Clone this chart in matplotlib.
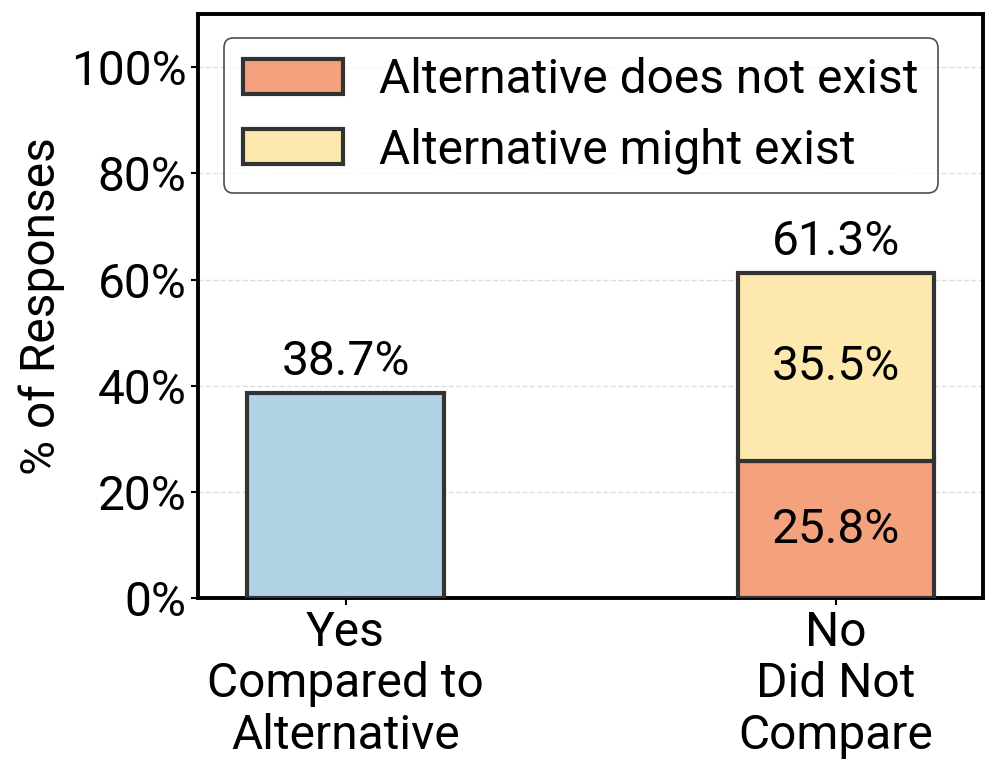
import matplotlib.pyplot as plt
from matplotlib.ticker import FuncFormatter

plt.rcParams['font.family'] = ['Roboto', 'DejaVu Sans']

# data
categories = ['Yes\nCompared to\nAlternative', 'No\nDid Not\nCompare']
yes_vals = [38.7]
no_exist = [25.8]
no_might = [35.5]
series_labels = ['Alternative does not exist', 'Alternative might exist']

FS = 34.5


def main():
    fig, ax = plt.subplots(figsize=(9.97, 7.8), dpi=100)
    fig.subplots_adjust(left=0.199, right=0.986, top=0.982, bottom=0.233)

    edge = '#333333'
    w = 0.4
    ax.bar([0], yes_vals, width=w, color='#b2d3e5', edgecolor=edge, linewidth=3, zorder=3)
    b1 = ax.bar([1], no_exist, width=w, color='#f4a27e', edgecolor=edge, linewidth=3,
                zorder=3, label=series_labels[0])
    b2 = ax.bar([1], no_might, width=w, bottom=no_exist, color='#fde8ad', edgecolor=edge,
                linewidth=3, zorder=3, label=series_labels[1])

    # value labels
    ax.text(0, yes_vals[0] + 1.5, f'{yes_vals[0]}%', ha='center', va='bottom', fontsize=FS)
    total = no_exist[0] + no_might[0]
    ax.text(1, total + 1.5, f'{total:.1f}%', ha='center', va='bottom', fontsize=FS)
    ax.text(1, no_exist[0] / 2, f'{no_exist[0]}%', ha='center', va='center', fontsize=FS)
    ax.text(1, no_exist[0] + no_might[0] / 2, f'{no_might[0]}%', ha='center', va='center',
            fontsize=FS)

    ax.set_xlim(-0.3, 1.3)
    ax.set_ylim(0, 110)
    ax.set_yticks([0, 20, 40, 60, 80, 100])
    ax.yaxis.set_major_formatter(FuncFormatter(lambda v, p: f'{v:.0f}%'))
    ax.set_xticks([0, 1])
    ax.set_xticklabels(categories, fontsize=FS, linespacing=1.15)
    ax.tick_params(axis='y', labelsize=FS, width=1.5, length=5)
    ax.tick_params(axis='x', width=1.5, length=5)
    ax.set_ylabel('% of Responses', fontsize=FS)
    ax.grid(axis='y', linestyle='--', color='#dddddd', linewidth=1, zorder=0)
    for s in ax.spines.values():
        s.set_linewidth(2.8)

    leg = ax.legend(handles=[b1, b2], loc='upper left', fontsize=FS, frameon=True,
                    edgecolor='#222222', fancybox=True, handlelength=2.1, handleheight=0.75,
                    handletextpad=0.75, borderpad=0.4, labelspacing=0.5, borderaxespad=0,
                    bbox_to_anchor=(0.032, 0.959))
    leg.get_frame().set_linewidth(1.2)

    fig.savefig('out.png', dpi=100)


if __name__ == "__main__":
    main()
